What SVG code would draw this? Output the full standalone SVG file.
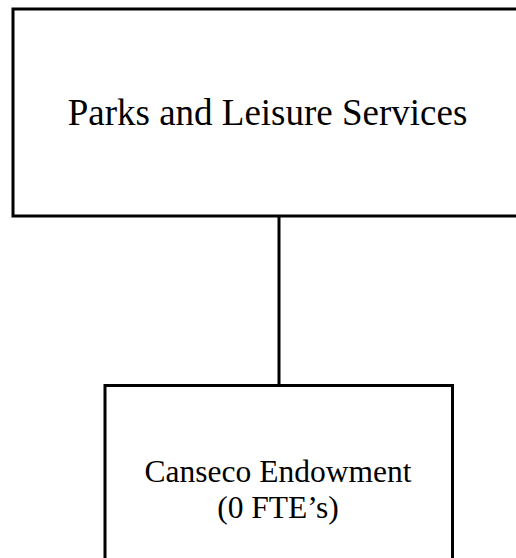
<svg xmlns="http://www.w3.org/2000/svg" width="516" height="558" viewBox="0 0 516 558">
  <style>
    .box { fill: #ffffff; stroke: #000000; stroke-width: 3; }
    .link { stroke: #000000; stroke-width: 3; fill: none; }
    .label { font-family: "Liberation Serif", "Times New Roman", serif; fill: #000000; text-anchor: middle; }
  </style>
  <rect width="516" height="558" fill="#ffffff"/>
  <g id="connectors">
    <line class="link" x1="279" y1="216" x2="279" y2="386"/>
  </g>
  <g id="parks-and-leisure">
    <rect class="box" x="13" y="9" width="520" height="207"/>
    <text class="label" x="267.5" y="125" font-size="37">Parks and Leisure Services</text>
  </g>
  <g id="canseco-endowment">
    <rect class="box" x="105" y="385.5" width="347.5" height="200"/>
    <text class="label" x="278" y="482" font-size="31.5">Canseco Endowment</text>
    <text class="label" x="278" y="518" font-size="31.5">(0 FTE’s)</text>
  </g>
</svg>
